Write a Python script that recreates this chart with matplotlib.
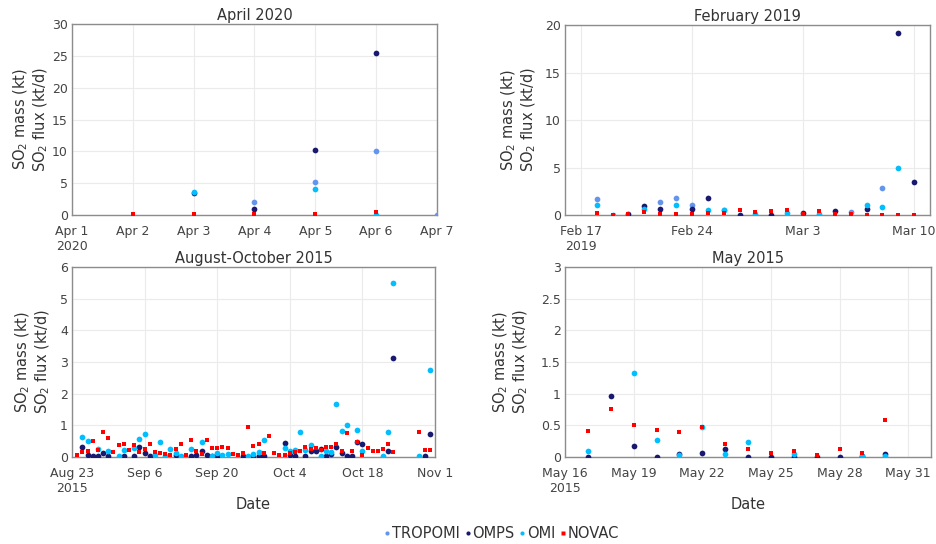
import datetime as dt

import matplotlib
matplotlib.use("Agg")
import matplotlib.pyplot as plt
from matplotlib.lines import Line2D
from matplotlib.ticker import FuncFormatter


# Colours per instrument
C_TROPOMI = "#6495ED"
C_OMPS = "#191970"
C_OMI = "#00BFFF"
C_NOVAC = "#FF0000"

# ---------------------------------------------------------------------------
# April 2020 (day offsets from Apr 1)
# ---------------------------------------------------------------------------
APR20_START = dt.date(2020, 4, 1)
APR20_TROPOMI_DAY = [3, 4, 5, 6]
APR20_TROPOMI_VAL = [2.05, 5.2, 10.0, 0.03]
APR20_OMPS_DAY = [2, 3, 4, 5]
APR20_OMPS_VAL = [3.4, 0.95, 10.2, 25.4]
APR20_OMI_DAY = [2, 4, 5]
APR20_OMI_VAL = [3.6, 4.05, 0.05]
APR20_NOVAC_DAY = [1, 2, 3, 4, 5]
APR20_NOVAC_VAL = [0.1, 0.1, 0.1, 0.22, 0.52]

# ---------------------------------------------------------------------------
# February 2019 (day offsets from Feb 17)
# ---------------------------------------------------------------------------
FEB19_START = dt.date(2019, 2, 17)
FEB19_TROPOMI_DAY = [1, 5, 6, 7, 9, 17, 19]
FEB19_TROPOMI_VAL = [1.65, 1.33, 1.75, 1.05, 0.55, 0.31, 2.84]
FEB19_OMPS_DAY = [3, 4, 5, 7, 8, 10, 12, 14, 16, 18, 20, 21]
FEB19_OMPS_VAL = [0.1, 0.92, 0.6, 0.6, 1.78, 0.05, 0.05, 0.2, 0.42, 0.65, 19.15, 3.45]
FEB19_OMI_DAY = [1, 2, 4, 6, 8, 9, 11, 13, 15, 18, 19, 20]
FEB19_OMI_VAL = [1.08, 0.05, 0.6, 1.1, 0.55, 0.55, 0.1, 0.2, 0.1, 1.0, 0.88, 4.9]
FEB19_NOVAC_DAY = list(range(1, 22))
FEB19_NOVAC_VAL = [0.2, 0.05, 0.15, 0.3, 0.1, 0.12, 0.15, 0.25, 0.2, 0.5, 0.28,
                   0.42, 0.56, 0.1, 0.42, 0.1, 0.15, 0.05, 0.03, 0.03, 0.03]

# ---------------------------------------------------------------------------
# August-October 2015 (day offsets from Aug 23)
# ---------------------------------------------------------------------------
AUG15_START = dt.date(2015, 8, 23)
AUG15_OMPS_DAY = [2, 3, 4, 5, 6, 7, 10, 12, 13, 14, 15, 20, 23, 24, 25, 26, 27, 28,
                  33, 35, 36, 37, 41, 42, 43, 45, 46, 47, 48, 49, 50, 51, 52, 53,
                  54, 55, 56, 61, 62, 68, 69]
AUG15_OMPS_VAL = [0.3, 0.06, 0.02, 0.02, 0.13, 0.02, 0.02, 0.02, 0.32, 0.13, 0.02,
                  0.07, 0.02, 0.06, 0.2, 0.05, 0.02, 0.02, 0.02, 0.02, 0.02, 0.02,
                  0.43, 0.05, 0.02, 0.02, 0.18, 0.2, 0.25, 0.02, 0.1, 0.3, 0.12,
                  0.02, 0.02, 0.48, 0.41, 0.18, 3.13, 0.02, 0.71]
AUG15_OMI_DAY = [2, 3, 5, 7, 9, 10, 12, 13, 14, 16, 17, 18, 19, 20, 21, 23, 25, 27,
                 28, 29, 30, 34, 35, 36, 37, 41, 42, 43, 44, 45, 46, 48, 49, 50,
                 51, 52, 53, 55, 56, 60, 61, 62, 67, 69]
AUG15_OMI_VAL = [0.63, 0.5, 0.25, 0.19, 0.04, 0.22, 0.28, 0.57, 0.74, 0.05, 0.48,
                 0.04, 0.25, 0.13, 0.02, 0.26, 0.48, 0.04, 0.12, 0.05, 0.09, 0.02,
                 0.1, 0.17, 0.55, 0.28, 0.18, 0.22, 0.79, 0.23, 0.39, 0.02, 0.18,
                 0.16, 1.66, 0.82, 1.0, 0.85, 0.2, 0.02, 0.78, 5.49, 0.02, 2.76]
AUG15_NOVAC_DAY = list(range(1, 63)) + [67, 68, 69]
AUG15_NOVAC_VAL = [0.07, 0.15, 0.2, 0.51, 0.21, 0.8, 0.59, 0.16, 0.39, 0.42,
                   0.22, 0.39, 0.17, 0.26, 0.4, 0.16, 0.13, 0.1, 0.05, 0.26,
                   0.4, 0.07, 0.53, 0.19, 0.1, 0.55, 0.28, 0.28, 0.3, 0.28,
                   0.1, 0.05, 0.13, 0.95, 0.36, 0.42, 0.13, 0.67, 0.12, 0.07,
                   0.07, 0.12, 0.15, 0.2, 0.3, 0.26, 0.28, 0.23, 0.33, 0.33,
                   0.4, 0.19, 0.77, 0.18, 0.48, 0.07, 0.28, 0.19, 0.2, 0.25,
                   0.41, 0.15, 0.8, 0.21, 0.21]

# ---------------------------------------------------------------------------
# May 2015 (day offsets from May 16)
# ---------------------------------------------------------------------------
MAY15_START = dt.date(2015, 5, 16)
MAY15_OMPS_DAY = list(range(1, 15))
MAY15_OMPS_VAL = [0.0, 0.96, 0.17, 0.0, 0.04, 0.06, 0.13, 0.0, 0.0, 0.0, 0.0,
                  0.0, 0.01, 0.04]
MAY15_OMI_DAY = [1, 3, 4, 5, 6, 7, 8, 10, 13, 14]
MAY15_OMI_VAL = [0.095, 1.33, 0.27, 0.03, 0.48, 0.05, 0.24, 0.05, 0.01, 0.01]
MAY15_NOVAC_DAY = list(range(1, 15))
MAY15_NOVAC_VAL = [0.415, 0.76, 0.5, 0.42, 0.4, 0.47, 0.2, 0.12, 0.06, 0.09,
                   0.03, 0.12, 0.06, 0.58]

TEXT = "#333333"
TICK = "#444444"
FRAME = "#8c8c8c"
GRID = "#ebebeb"
YLABEL = "SO$_2$ mass (kt)\nSO$_2$ flux (kt/d)"


def to_dates(start, days):
    return [start + dt.timedelta(days=d) for d in days]


def scatter(ax, start, days, vals, color, square=False):
    if not days:
        return
    ax.scatter(to_dates(start, days), vals, s=11 if square else 17,
               marker="s" if square else "o", color=color, linewidths=0,
               zorder=3)


def style_axis(ax, start, xlim, tick_days, yticks, title, label_x, xlabel=False):
    ax.set_xlim(*to_dates(start, xlim))
    ax.set_ylim(yticks[0], yticks[-1])
    ticks = to_dates(start, tick_days)
    labels = [f"{d:%b} {d.day}" for d in ticks]
    labels[0] += f"\n{ticks[0].year}"
    ax.set_xticks(ticks)
    ax.set_xticklabels(labels)
    ax.set_yticks(yticks)
    ax.yaxis.set_major_formatter(FuncFormatter(lambda v, _: f"{v:g}"))
    ax.tick_params(length=0, labelsize=9, colors=TICK)
    ax.tick_params(axis="x", pad=7)
    ax.tick_params(axis="y", pad=3)
    ax.grid(True, color=GRID, lw=0.8)
    ax.set_axisbelow(True)
    for sp in ax.spines.values():
        sp.set_color(FRAME)
        sp.set_linewidth(1.0)
    ax.set_title(title, fontsize=10.5, color=TEXT, pad=3)
    ax.set_ylabel(YLABEL, fontsize=10.5, color=TEXT, linespacing=1.1)
    ax.yaxis.set_label_coords(label_x, 0.5)
    if xlabel:
        ax.set_xlabel("Date", fontsize=10.5, color=TEXT)
        ax.xaxis.set_label_coords(0.5, -0.21)
        ax.xaxis.label.set_va("top")


def main():
    fig = plt.figure(figsize=(9.37, 5.44), dpi=100)
    ax1 = fig.add_axes([0.0768, 0.6048, 0.3895, 0.351])
    ax2 = fig.add_axes([0.603, 0.6048, 0.3895, 0.349])
    ax3 = fig.add_axes([0.0768, 0.16, 0.3874, 0.349])
    ax4 = fig.add_axes([0.603, 0.16, 0.3906, 0.349])

    # April 2020
    scatter(ax1, APR20_START, APR20_TROPOMI_DAY, APR20_TROPOMI_VAL, C_TROPOMI)
    scatter(ax1, APR20_START, APR20_OMPS_DAY, APR20_OMPS_VAL, C_OMPS)
    scatter(ax1, APR20_START, APR20_OMI_DAY, APR20_OMI_VAL, C_OMI)
    scatter(ax1, APR20_START, APR20_NOVAC_DAY, APR20_NOVAC_VAL, C_NOVAC, square=True)
    style_axis(ax1, APR20_START, (0, 6), range(0, 7), range(0, 31, 5),
               "April 2020", -0.06)

    # February 2019
    scatter(ax2, FEB19_START, FEB19_TROPOMI_DAY, FEB19_TROPOMI_VAL, C_TROPOMI)
    scatter(ax2, FEB19_START, FEB19_OMPS_DAY, FEB19_OMPS_VAL, C_OMPS)
    scatter(ax2, FEB19_START, FEB19_OMI_DAY, FEB19_OMI_VAL, C_OMI)
    scatter(ax2, FEB19_START, FEB19_NOVAC_DAY, FEB19_NOVAC_VAL, C_NOVAC, square=True)
    style_axis(ax2, FEB19_START, (-1, 22), range(0, 22, 7), range(0, 21, 5),
               "February 2019", -0.075)

    # August-October 2015
    scatter(ax3, AUG15_START, AUG15_OMPS_DAY, AUG15_OMPS_VAL, C_OMPS)
    scatter(ax3, AUG15_START, AUG15_OMI_DAY, AUG15_OMI_VAL, C_OMI)
    scatter(ax3, AUG15_START, AUG15_NOVAC_DAY, AUG15_NOVAC_VAL, C_NOVAC, square=True)
    style_axis(ax3, AUG15_START, (0, 70), range(0, 71, 14), range(0, 7),
               "August-October 2015", -0.055, xlabel=True)

    # May 2015
    scatter(ax4, MAY15_START, MAY15_OMPS_DAY, MAY15_OMPS_VAL, C_OMPS)
    scatter(ax4, MAY15_START, MAY15_OMI_DAY, MAY15_OMI_VAL, C_OMI)
    scatter(ax4, MAY15_START, MAY15_NOVAC_DAY, MAY15_NOVAC_VAL, C_NOVAC, square=True)
    style_axis(ax4, MAY15_START, (0, 16), range(0, 16, 3),
               [0, 0.5, 1, 1.5, 2, 2.5, 3], "May 2015", -0.096, xlabel=True)

    handles = [
        Line2D([], [], ls="", marker="o", ms=3, mec="none", color=C_TROPOMI),
        Line2D([], [], ls="", marker="o", ms=3, mec="none", color=C_OMPS),
        Line2D([], [], ls="", marker="o", ms=3, mec="none", color=C_OMI),
        Line2D([], [], ls="", marker="s", ms=2.6, mec="none", color=C_NOVAC),
    ]
    leg = fig.legend(handles, ["TROPOMI", "OMPS", "OMI", "NOVAC"], loc="center",
                     bbox_to_anchor=(0.536, 0.02), ncol=4, frameon=False,
                     fontsize=10.5, handlelength=0.3, handletextpad=0.2,
                     columnspacing=0.35, borderpad=0)
    for t in leg.get_texts():
        t.set_color(TEXT)

    fig.savefig("out.png", dpi=100)
    plt.close(fig)


if __name__ == "__main__":
    main()
